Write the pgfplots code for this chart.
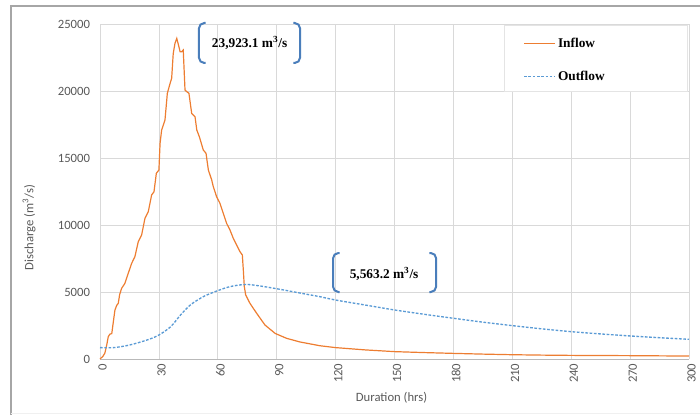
\documentclass[border=0pt]{standalone}
\usepackage{pgfplots}
\pgfplotsset{compat=1.18}
\usepackage{fontspec}
\setmainfont{Carlito}
\newfontfamily\tnr{Liberation Serif}

\definecolor{inflowc}{HTML}{ED7D31}
\definecolor{outflowc}{HTML}{5B9BD5}
\definecolor{brack}{HTML}{4A7EBB}
\definecolor{txtgray}{HTML}{595959}
\definecolor{gridc}{HTML}{D9D9D9}

\begin{document}
\begin{tikzpicture}
\path[use as bounding box] (0,0) rectangle (525pt,311.25pt);
\begin{axis}[
  at={(75pt,42pt)}, anchor=south west,
  scale only axis, width=441.75pt, height=251.25pt,
  xmin=0, xmax=300, ymin=0, ymax=25000,
  xtick={0,30,...,300}, ytick={0,5000,...,25000},
  scaled y ticks=false,
  clip=false,
  axis x line*=bottom, axis y line*=left,
  every outer x axis line/.append style={-},
  every outer y axis line/.append style={-},
  x axis line style={draw=gray!55, line width=0.6pt},
  y axis line style={draw=none},
  major tick length=0pt, tick style={draw=none},
  grid=major, grid style={draw=gridc, line width=0.6pt},
  /pgf/number format/.cd, 1000 sep={}, assume math mode=true,
  /pgfplots/.cd,
  tick label style={font=\fontsize{9.5}{11}\selectfont, text=txtgray},
  yticklabel style={anchor=east, xshift=-4pt},
  xticklabel style={rotate=90, anchor=east, yshift=-2pt},
  xlabel={Duration (hrs)},
  ylabel={Discharge (m\textsuperscript{3}/s)},
  label style={font=\fontsize{9.5}{11}\selectfont, text=txtgray},
  xlabel style={at={(axis description cs:0.495,-0.1164)}, anchor=center},
  ylabel style={at={(axis description cs:-0.1205,0.3925)}, anchor=center},
  legend image code/.code={\draw[#1, line width=0.7pt] (0pt,0pt) -- (23pt,0pt);},
  legend cell align=left,
  legend style={at={(rel axis cs:0.719,0.968)}, anchor=north west,
    draw=none, fill=none, inner sep=0pt, row sep=12.5pt,
    font=\tnr\bfseries\fontsize{10}{12}\selectfont},
]
\addplot[inflowc, line width=0.9pt] coordinates {
(0,0) (1.5,200) (2.5,450) (3.5,1100) (4.2,1660) (5,1850) (6,1900) (7,3000)
(7.6,3650) (8.5,4000) (9.3,4150) (10,4800) (11,5270) (12.7,5650) (14.4,6400)
(16.1,7130) (17.8,7650) (19.5,8760) (21.2,9250) (22.9,10500) (24.6,11000)
(26.3,12240) (27.5,12480) (28.7,13860) (30,14100) (30.6,16100) (31.4,17090)
(33.1,17840) (34.3,19830) (35.7,20570) (36.5,20950) (37.3,22800) (38.2,23560)
(39.1,23923) (40.2,23300) (40.8,22930) (41.6,22930) (42.4,23060) (43.3,20070)
(44.2,19950) (45.3,19830) (46.7,18330) (48.4,18080) (49.3,17090) (50.6,16590)
(52.6,15600) (54,15350) (55.2,14100) (56.9,13360) (57.7,12860) (59.4,12110)
(61.1,11620) (62.8,10870) (64.5,10120) (66.2,9630) (67.9,9000) (69.6,8510)
(71.3,8010) (72.5,7760) (73,6640) (73.5,5400) (74.2,4780) (76.4,4150)
(79.8,3410) (84,2540) (89.2,1910) (95.1,1540) (101.9,1270) (112,990)
(120,850) (135,680) (150,550) (165,480) (180,420) (195,365) (210,320)
(225,290) (240,270) (255,260) (270,250) (285,235) (300,220)
};
\addlegendentry{Inflow}
\addplot[outflowc, line width=1pt, dash pattern=on 2pt off 1.2pt, smooth] coordinates {
(0,850) (7,850) (15,1040) (24,1420) (30,1790) (36,2410) (41,3280) (46,4030)
(52.6,4650) (59.4,5070) (66.2,5400) (74,5563) (81.5,5450) (91.7,5200)
(102,4920) (112,4650) (120,4400) (135,4030) (150,3660) (165,3340) (180,3040)
(195,2750) (210,2490) (225,2250) (240,2040) (255,1870) (270,1720) (285,1590)
(300,1470)
};
\addlegendentry{Outflow}
% legend frame
\draw[gridc!70, line width=0.5pt, fill=white] (rel axis cs:0.686,0.8) rectangle (rel axis cs:0.998,0.997);
% annotation brackets
\draw[brack, line width=1.5pt, rounded corners=4pt]
  ([xshift=5pt]axis cs:50.4,25075) -- (axis cs:50.4,25075) -- (axis cs:50.4,22090) -- ([xshift=5pt]axis cs:50.4,22090);
\draw[brack, line width=1.5pt, rounded corners=4pt]
  ([xshift=-5pt]axis cs:101.9,25075) -- (axis cs:101.9,25075) -- (axis cs:101.9,22090) -- ([xshift=-5pt]axis cs:101.9,22090);
\node[font=\tnr\bfseries\fontsize{10}{12}\selectfont] at (axis cs:76.2,23580) {23,923.1 m\textsuperscript{3}/s};
\draw[brack, line width=1.5pt, rounded corners=4pt]
  ([xshift=5pt]axis cs:118.7,7910) -- (axis cs:118.7,7910) -- (axis cs:118.7,5000) -- ([xshift=5pt]axis cs:118.7,5000);
\draw[brack, line width=1.5pt, rounded corners=4pt]
  ([xshift=-5pt]axis cs:171.2,7910) -- (axis cs:171.2,7910) -- (axis cs:171.2,5000) -- ([xshift=-5pt]axis cs:171.2,5000);
\node[font=\tnr\bfseries\fontsize{10}{12}\selectfont] at (axis cs:144.7,6340) {5,563.2 m\textsuperscript{3}/s};
\end{axis}
\draw[gray!70, line width=1.5pt] (8.25pt,0) -- (8.25pt,307pt) -- (525pt,307pt);
\draw[gray!12, line width=0.75pt] (8.25pt,1.5pt) -- (525pt,1.5pt);
\end{tikzpicture}
\end{document}
